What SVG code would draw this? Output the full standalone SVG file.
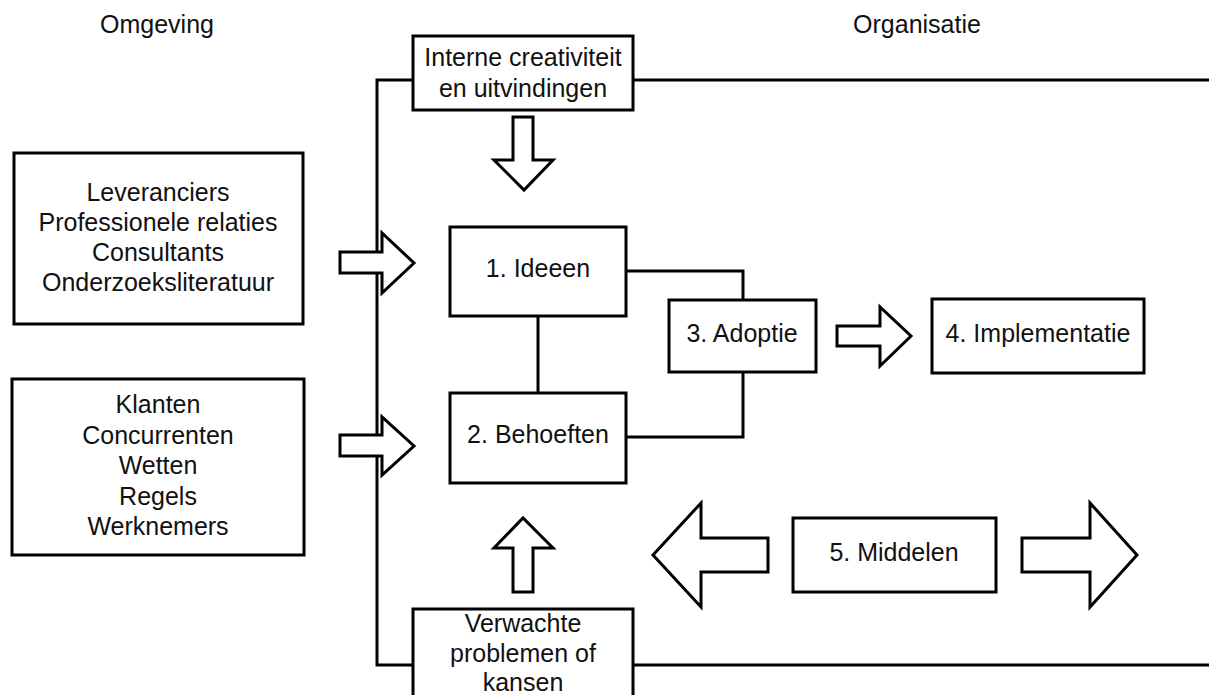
<svg xmlns="http://www.w3.org/2000/svg" width="1209" height="695" viewBox="0 0 1209 695">
<style>
.b{fill:#fff;stroke:#000;stroke-width:3}
.l{fill:none;stroke:#000;stroke-width:3}
.a{fill:#fff;stroke:#000;stroke-width:3;stroke-linejoin:miter}
text{font-family:"Liberation Sans",Arial,sans-serif;font-size:25px;fill:#111;text-anchor:middle}
</style>
<rect width="1209" height="695" fill="#fff"/>
<g id="headers">
<text x="157" y="33">Omgeving</text>
<text x="917" y="33">Organisatie</text>
</g>
<g id="connectors">
<path class="l" d="M413,80 H377 V665 H413"/>
<path class="l" d="M633,80 H1209"/>
<path class="l" d="M633,665 H1209"/>
<path class="l" d="M538,316 V393"/>
<path class="l" d="M626,271 H743 V300"/>
<path class="l" d="M626,437 H743 V372"/>
<polygon class="a" points="513,117 533,117 533,160 553,160 524,190 494,160 513,160"/>
<polygon class="a" points="340,252 382,252 382,233 414,263 382,293 382,273 340,273"/>
<polygon class="a" points="340,435 382,435 382,417 414,446 382,475 382,456 340,456"/>
<polygon class="a" points="837,326 880,326 880,307 911,336 880,366 880,346 837,346"/>
<polygon class="a" points="513,592 533,592 533,548 553,548 523,518 494,548 513,548"/>
<polygon class="a" points="768,538 701,538 701,503 653,555 701,607 701,572 768,572"/>
<polygon class="a" points="1022,538 1090,538 1090,503 1137,555 1090,607 1090,572 1022,572"/>
</g>
<g id="interne">
<rect class="b" x="413" y="36" width="220" height="74"/>
<text x="523" y="66">Interne creativiteit</text>
<text x="523" y="97">en uitvindingen</text>
</g>
<g id="leveranciers">
<rect class="b" x="14" y="153" width="289" height="171"/>
<text x="158" y="201">Leveranciers</text>
<text x="158" y="231">Professionele relaties</text>
<text x="158" y="261">Consultants</text>
<text x="158" y="291">Onderzoeksliteratuur</text>
</g>
<g id="klanten">
<rect class="b" x="12" y="379" width="292" height="176"/>
<text x="158" y="413">Klanten</text>
<text x="158" y="444">Concurrenten</text>
<text x="158" y="474">Wetten</text>
<text x="158" y="505">Regels</text>
<text x="158" y="535">Werknemers</text>
</g>
<g id="ideeen">
<rect class="b" x="450" y="227" width="176" height="89"/>
<text x="538" y="277">1. Ideeen</text>
</g>
<g id="behoeften">
<rect class="b" x="450" y="393" width="176" height="90"/>
<text x="538" y="443">2. Behoeften</text>
</g>
<g id="adoptie">
<rect class="b" x="669" y="300" width="147" height="72"/>
<text x="742" y="342">3. Adoptie</text>
</g>
<g id="implementatie">
<rect class="b" x="932" y="299" width="212" height="74"/>
<text x="1038" y="342">4. Implementatie</text>
</g>
<g id="middelen">
<rect class="b" x="793" y="518" width="203" height="74"/>
<text x="894" y="561">5. Middelen</text>
</g>
<g id="verwachte">
<rect class="b" x="413" y="609" width="220" height="95"/>
<text x="523" y="632">Verwachte</text>
<text x="523" y="662">problemen of</text>
<text x="523" y="691">kansen</text>
</g>
</svg>
